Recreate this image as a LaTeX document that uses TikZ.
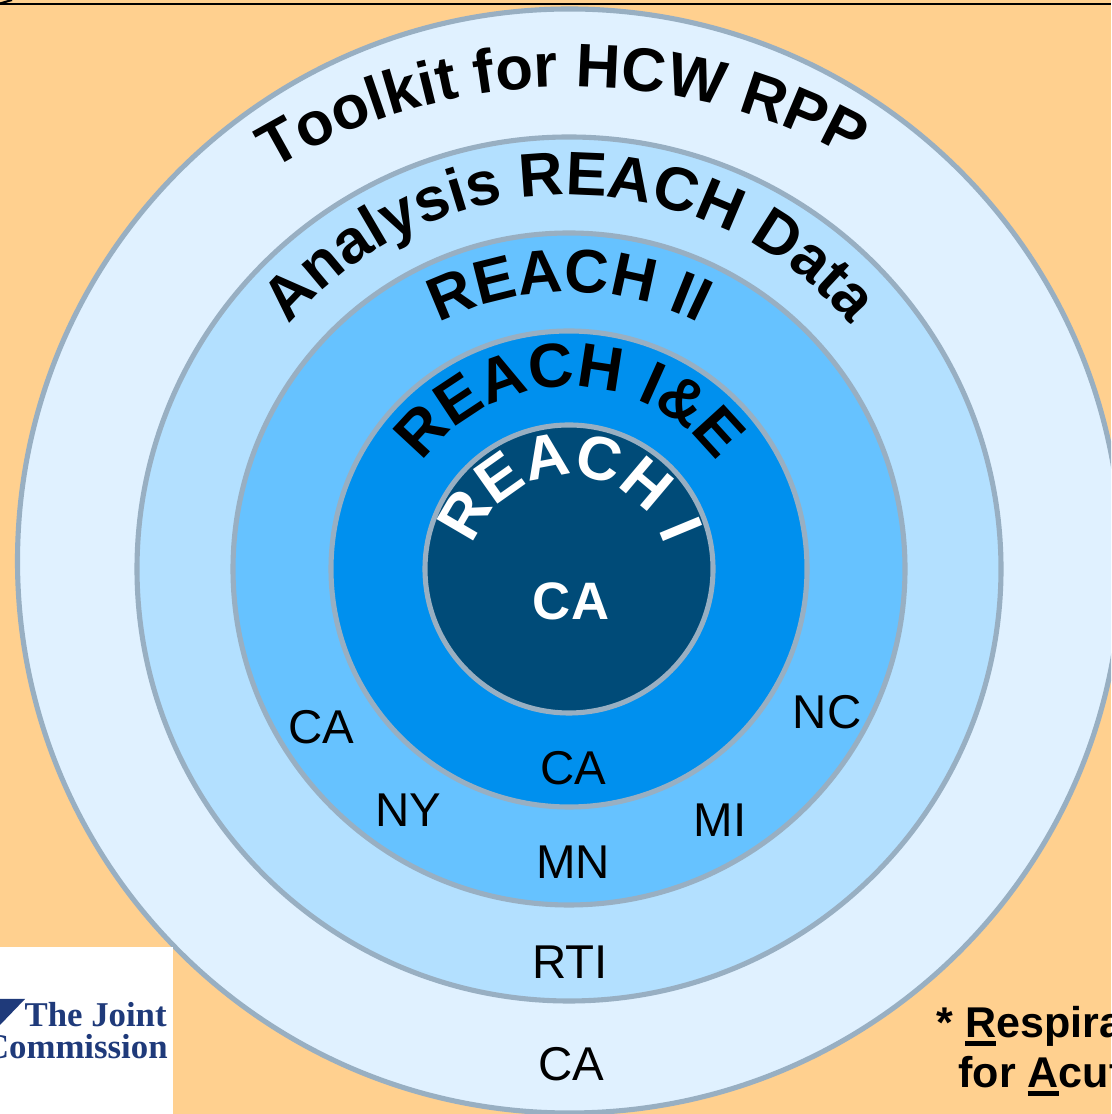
\documentclass[tikz,border=0pt]{standalone}
\usepackage{fontspec}
\setmainfont{Liberation Sans}
\newfontfamily\logofont{Liberation Serif}
\usetikzlibrary{decorations.text}
\definecolor{bgorange}{HTML}{FFD08F}
\definecolor{ringline}{HTML}{98AFC2}
\definecolor{logonavy}{HTML}{1F3A7A}
\newcommand{\archtext}[7]{%
  \path[decorate, decoration={text along path, text align=center,
      text={|\fontsize{#5}{#5}\selectfont\bfseries\color{#6}|#7}}]
    ([shift={(#4+85:#3)}]#1,#2) arc[start angle=#4+85, end angle=#4-85, radius=#3];
}
\newcommand{\heavyul}[1]{\setbox0\hbox{#1}\rlap{\rule[-4.6pt]{\wd0}{2.8pt}}#1}
\begin{document}
\begin{tikzpicture}[x=0.02cm,y=0.02cm]
\tikzset{ring/.style={draw=ringline, line width=2.9pt},
  place/.style={font=\fontsize{27}{27}\selectfont, text=black, inner sep=0},
  logotext/.style={font=\logofont\bfseries\fontsize{19.8}{19.8}\selectfont, text=logonavy, anchor=base east, inner sep=0},
  note/.style={font=\fontsize{24.5}{29}\selectfont\bfseries, anchor=base west, inner sep=0}}
\useasboundingbox (0,0) rectangle (1111,1114);
\clip (0,0) rectangle (1111,1114);

% Fondo
\fill[bgorange] (0,0) rectangle (1111,1114);
\draw[black, line width=1.4pt] (0,1110) -- (1111,1110);
\draw[black, line width=1.2pt] (0,1110.5) -- (12,1114);

% Anelli
\foreach \cx/\cy/\r/\col in {569.5/553/552/E0F1FF, 569/545/432/B3E0FF, 569/545/336/66C2FF,
    569/545/238/0090EE, 569/545/144/004B78} {
  \definecolor{ringfill}{HTML}{\col}
  \draw[ring, fill=ringfill] (\cx,\cy) circle (\r);
}

% Titoli ad arco
\archtext{572}{444}{583}{91}{35}{black}{Toolkit for HCW RPP}
\archtext{570}{551}{368}{90}{35}{black}{Analysis REACH Data}
\archtext{569}{535}{287}{90}{35}{black}{REACH II}
\archtext{570}{546}{181}{90}{35.5}{black}{REACH I{\&}E}
\archtext{569}{538}{100}{90}{35}{white}{REACH I}

% Sigle
\node[place, font=\fontsize{30}{30}\selectfont\bfseries, text=white] (caCore) at (571,513) {CA};
\foreach \name/\x/\y/\lab in {caWest/321/387/CA, ny/408/304/NY, caMid/573/346/CA, nc/827/402/NC,
    mi/720/294/MI, mn/573/252/MN, rti/570/152/RTI, caOut/571/50/CA} {
  \node[place] (\name) at (\x,\y) {\lab};
}

% Logo
\fill[white] (0,0) rectangle (173,167);
\fill[logonavy] (0,115) -- (25,115) -- (0,89) -- cycle;
\node[logotext] (logoTop) at (167,87) {The Joint};
\node[logotext] (logoBot) at (168,55) {Commission};

% Nota
\node[note] (noteTop) at (936,76) {* \heavyul{R}espira};
\node[note] (noteBot) at (958,26) {for \heavyul{A}cut};
\end{tikzpicture}
\end{document}
